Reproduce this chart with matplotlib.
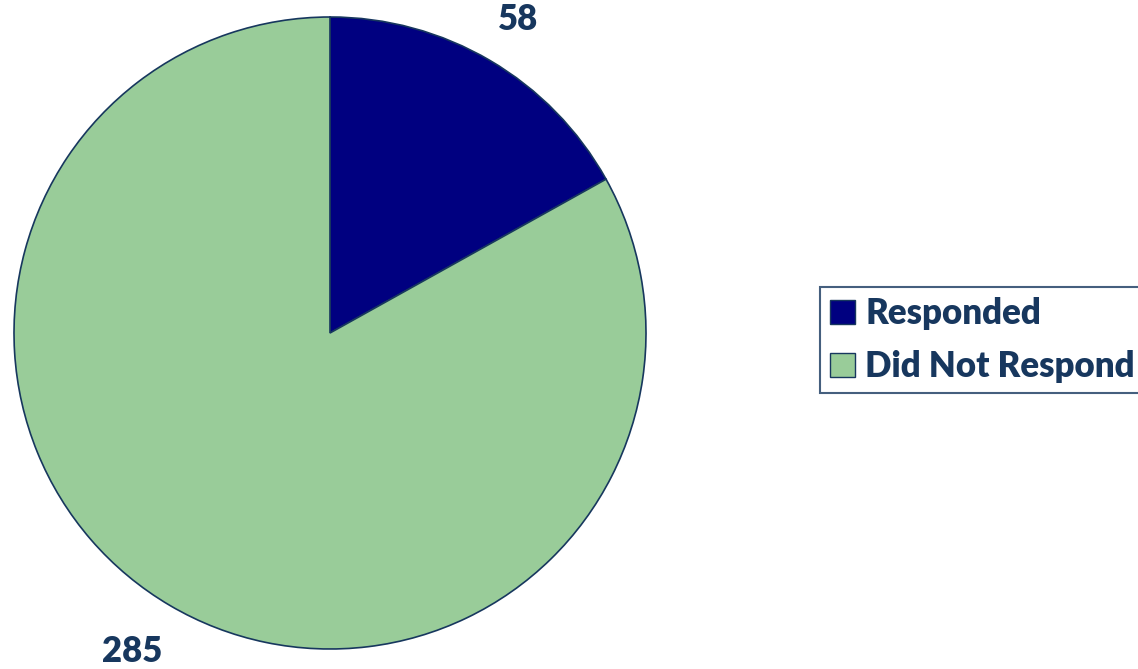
import matplotlib.pyplot as plt
from matplotlib.patches import Patch

categories = ["Responded", "Did Not Respond"]
counts = [58, 285]
colors = ["#000080", "#99CC99"]
edge = "#17375E"
text_color = "#17375E"

W, H = 1138, 669
fig = plt.figure(figsize=(W / 100, H / 100), dpi=100)

# pie centre and radius in pixels
cx, cy, r = 330, 333, 316
ax = fig.add_axes([(cx - r) / W, (H - cy - r) / H, 2 * r / W, 2 * r / H])
wedges, _ = ax.pie(counts, colors=colors, startangle=90, counterclock=False,
                   radius=1, wedgeprops=dict(edgecolor=edge, linewidth=1.2))
ax.set_xlim(-1, 1)
ax.set_ylim(-1, 1)
ax.set_aspect("equal")
ax.axis("off")

font = dict(family="Lato", weight="heavy", color=text_color, fontsize=25)

# value labels
fig.text(518 / W, 1 - 20 / H, str(counts[0]), ha="center", va="center", **font)
fig.text(132 / W, 1 - 652 / H, str(counts[1]), ha="center", va="center", **font)

handles = [Patch(facecolor=c, edgecolor=edge, linewidth=1) for c in colors]
leg = fig.legend(handles, categories, loc="center left",
                 bbox_to_anchor=(820 / W, 1 - 340 / H),
                 prop=dict(family="Lato", weight="heavy", size=25),
                 frameon=True, fancybox=False, borderpad=0.3,
                 handlelength=0.7, handleheight=0.7, handletextpad=0.3,
                 labelspacing=0.58, borderaxespad=0)
leg.get_frame().set_edgecolor(edge)
leg.get_frame().set_linewidth(1.5)
for t in leg.get_texts():
    t.set_color(text_color)

fig.savefig("out.png", dpi=100)
